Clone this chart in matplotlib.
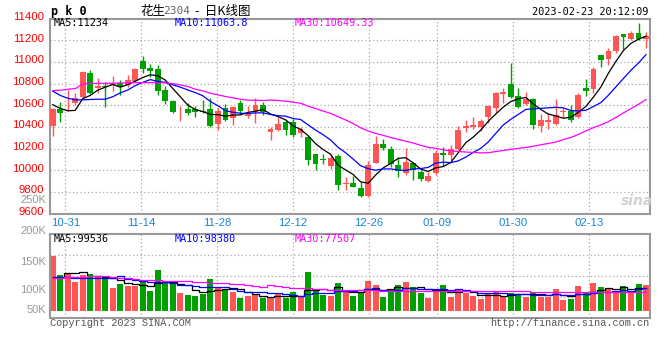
import matplotlib
matplotlib.use("Agg")
import matplotlib.pyplot as plt
import matplotlib.transforms as mtransforms
import numpy as np

# daily candles, 2022-10-27 .. 2023-02-23
opens = [10409, 10560, 10625, 10624, 10680, 10898, 10757, 10772, 10786, 10802,
         10787, 10827, 11008, 10944, 10935, 10741, 10640, 10551, 10560, 10566,
         10550, 10566, 10428, 10575, 10486, 10624, 10498, 10535, 10603, 10348,
         10372, 10440, 10449, 10342, 10302, 10151, 10106, 10041, 10133, 9875,
         9881, 9838, 9758, 10062, 10243, 10197, 10050, 9970, 10065, 9982,
         9896, 9970, 10163, 10142, 10194, 10385, 10403, 10403, 10495, 10572,
         10704, 10796, 10686, 10612, 10655, 10409, 10443, 10428, 10541, 10548,
         10495, 10760, 10750, 11061, 11024, 11104, 11257, 11211, 11263, 11211]
highs = [10570, 10630, 10741, 10710, 10916, 10925, 10852, 10818, 10870, 10833,
         10879, 10940, 11054, 10981, 10971, 10778, 10649, 10594, 10618, 10594,
         10649, 10664, 10572, 10609, 10590, 10649, 10594, 10664, 10630, 10403,
         10489, 10465, 10471, 10397, 10320, 10151, 10151, 10151, 10151, 9933,
         9948, 9887, 10084, 10311, 10289, 10225, 10120, 10203, 10071, 10004,
         9985, 10188, 10213, 10234, 10409, 10465, 10489, 10471, 10600, 10726,
         10757, 10993, 10757, 10726, 10664, 10520, 10532, 10658, 10572, 10597,
         10713, 10843, 10953, 11061, 11125, 11248, 11257, 11285, 11362, 11279]
lows = [10320, 10449, 10550, 10603, 10670, 10704, 10716, 10587, 10732, 10695,
        10772, 10818, 10895, 10864, 10695, 10612, 10529, 10458, 10510, 10489,
        10526, 10394, 10372, 10455, 10418, 10520, 10486, 10434, 10511, 10274,
        10357, 10326, 10305, 10305, 10050, 9998, 10059, 10013, 9819, 9819,
        9844, 9749, 9752, 10062, 10188, 10028, 9936, 9951, 9905, 9896,
        9887, 9958, 10034, 10096, 10182, 10354, 10379, 10366, 10434, 10541,
        10618, 10664, 10572, 10597, 10379, 10348, 10379, 10419, 10480, 10443,
        10486, 10686, 10716, 10956, 10972, 11079, 11119, 11202, 11202, 11131]
closes = [10566, 10532, 10632, 10664, 10907, 10716, 10775, 10768, 10792, 10781,
          10833, 10935, 10938, 10916, 10735, 10634, 10541, 10557, 10532, 10535,
          10538, 10409, 10547, 10465, 10584, 10547, 10523, 10603, 10541, 10379,
          10428, 10372, 10326, 10379, 10090, 10059, 10097, 10111, 9866, 9880,
          9847, 9758, 10047, 10243, 10207, 10059, 9988, 10078, 10004, 9921,
          9948, 10157, 10136, 10194, 10372, 10409, 10418, 10458, 10594, 10716,
          10726, 10673, 10587, 10655, 10418, 10465, 10461, 10505, 10547, 10465,
          10695, 10732, 10935, 11018, 11100, 11239, 11233, 11263, 11211, 11239]
volumes = [240, 157, 164, 128, 157, 161, 147, 147, 100, 117,
           108, 108, 126, 88, 179, 123, 120, 79, 69, 66,
           73, 138, 106, 94, 84, 57, 64, 72, 57, 54,
           73, 57, 84, 59, 172, 94, 69, 64, 123, 84,
           64, 84, 132, 113, 62, 91, 113, 128, 106, 79,
           57, 95, 113, 62, 91, 76, 64, 51, 73, 86,
           59, 79, 73, 62, 84, 62, 62, 95, 47, 51,
           108, 76, 123, 106, 95, 88, 108, 84, 117, 113]  # thousands

# average values shown before enough candles exist
ma5_head = [10605, 10570, 10548, 10552]
ma10_head = [10730, 10690, 10664, 10649, 10649, 10652, 10655, 10655, 10678]
ma30_head = [10735, 10738, 10747, 10753, 10795, 10800, 10802, 10802, 10802, 10805,
             10805, 10808, 10808, 10808, 10808, 10805, 10799, 10787, 10772, 10747,
             10732, 10710, 10695, 10680, 10667, 10655, 10646, 10646, 10643]
vol_ma5_head = [147, 147, 167, 167]
vol_ma10_head = [147, 147, 147, 146, 144, 144, 143, 143, 143]
vol_ma30_head = [142, 146, 148, 149, 150, 151, 152, 152, 150, 146,
                 142, 138, 135, 134, 133, 132, 132, 131, 129, 127,
                 125, 124, 122, 120, 119, 116, 113, 108, 104]

date_labels = ["10-31", "11-14", "11-28", "12-12", "12-26", "01-09", "01-30", "02-13"]
date_idx = [2, 12, 22, 32, 42, 51, 61, 71]
price_ticks = [9600, 9800, 10000, 10200, 10400, 10600, 10800, 11000, 11200, 11400]
vol_labels = ["250K", "200K", "150K", "100K", "50K"]

RED = "#ff5555"
GREEN = "#00a000"
GRID = "#aaaaaa"
FRAME = "#999999"
W, H = 660, 360


def fx(x):
    return x / W


def fy(y):
    return 1 - y / H


def moving_avg(values, n, head):
    vals = np.asarray(values, dtype=float)
    tail = np.convolve(vals, np.ones(n) / n, mode="valid")
    return np.concatenate([head, tail])


idx = np.arange(len(closes))
o = np.array(opens)
c = np.array(closes)
up = c >= o
colors = np.where(up, RED, GREEN)

fig = plt.figure(figsize=(W / 100, H / 100), dpi=100)
ax = fig.add_axes([fx(50), fy(213.5), 600 / W, 195 / H])
axv = fig.add_axes([fx(50), fy(317.7), 600 / W, 83.4 / H])

xlim = (-0.36, 79.53)
# sina spaces its date grid a touch wider than the candles
grid_x = [i * 1.0112 - 0.346 for i in date_idx]

# ---- price panel
ax.vlines(idx, lows, highs, colors=colors, linewidth=1, zorder=2)
body_lo = np.minimum(o, c)
body_h = np.maximum(np.abs(c - o), 8)
ax.bar(idx, body_h, bottom=body_lo, width=0.78, color=colors, linewidth=0, zorder=3)

ax.plot(idx, moving_avg(closes, 5, ma5_head), color="black", lw=0.9, zorder=4)
ax.plot(idx, moving_avg(closes, 10, ma10_head), color="blue", lw=0.9, zorder=4)
ax.plot(idx, moving_avg(closes, 30, ma30_head), color="#ff00ff", lw=0.9, zorder=4)

ax.set_xlim(*xlim)
ax.set_ylim(9600, 11400)
ax.set_yticks(price_ticks)
ax.set_yticklabels([str(p) for p in price_ticks], color="red",
                   family="Liberation Sans", fontsize=8.2)
ax.set_xticks(grid_x)
ax.set_xticklabels(date_labels, color="#1a86d0", family="Liberation Sans", fontsize=8.2)
ax.tick_params(length=0, pad=3)
ax.tick_params(axis="y", pad=4)
shift = mtransforms.ScaledTranslation(0, 2.5 / 100, fig.dpi_scale_trans)
for lab in ax.get_yticklabels():
    lab.set_transform(lab.get_transform() + shift)
for p in price_ticks[1:-1]:
    ax.axhline(p, color=GRID, lw=0.9, ls=(0, (1, 2)), zorder=1)
for g in grid_x:
    ax.axvline(g, color=GRID, lw=0.9, ls=(0, (1, 2)), zorder=1)

# ---- volume panel
axv.bar(idx, volumes, width=0.8, color=colors, linewidth=0, zorder=2)
axv.plot(idx, moving_avg(volumes, 5, vol_ma5_head), color="black", lw=0.9,
         drawstyle="steps-mid", zorder=4)
axv.plot(idx, moving_avg(volumes, 10, vol_ma10_head), color="blue", lw=0.9,
         drawstyle="steps-mid", zorder=4)
axv.plot(idx, moving_avg(volumes, 30, vol_ma30_head), color="#ff00ff", lw=0.9,
         drawstyle="steps-mid", zorder=4)
axv.set_xlim(*xlim)
vlo, vhi = -30.8, 336
axv.set_ylim(vlo, vhi)
axv.set_xticks([])
axv.set_yticks([])
for k in range(1, 4):
    axv.axhline(vlo + k * (vhi - vlo) / 4, color=GRID, lw=0.9, ls=(0, (1, 2)), zorder=1)
for g in grid_x:
    axv.axvline(g, color=GRID, lw=0.9, ls=(0, (1, 2)), zorder=1)

for a in (ax, axv):
    for s in a.spines.values():
        s.set_color(FRAME)
        s.set_linewidth(1.5)

# ---- texts
mono = "DejaVu Sans Mono"
cjk = ["Noto Sans CJK SC", "DejaVu Sans"]
fig.text(fx(51), fy(11), "p k 0", family=mono, weight="bold", fontsize=8.5, va="center")
fig.text(fx(140), fy(11), "花生", family=cjk, fontsize=9, va="center")
fig.text(fx(163), fy(11.5), "2304", family="DejaVu Sans Mono", fontsize=8, va="center",
         color="#666666")
fig.text(fx(195), fy(11), "-  日K线图", family=cjk, fontsize=9, va="center")
fig.text(fx(648), fy(12), "2023-02-23 20:12:09", family=mono, fontsize=7.4,
         ha="right", va="center")

fig.text(fx(54), fy(23.5), "MA5:11234", family=mono, fontsize=7.3, va="center", color="black")
fig.text(fx(175), fy(23.5), "MA10:11063.8", family=mono, fontsize=7.3, va="center", color="blue")
fig.text(fx(295), fy(23.5), "MA30:10649.33", family=mono, fontsize=7.3, va="center", color="#ff00ff")

fig.text(fx(54), fy(238.5), "MA5:99536", family=mono, fontsize=7.3, va="center", color="black")
fig.text(fx(175), fy(238.5), "MA10:98380", family=mono, fontsize=7.3, va="center", color="blue")
fig.text(fx(295), fy(238.5), "MA30:77507", family=mono, fontsize=7.3, va="center", color="#ff00ff")

for lab, y in zip(vol_labels, [200, 231, 262, 290, 310]):
    fig.text(fx(46), fy(y), lab, family="Liberation Sans", fontsize=8, color="#999999",
             ha="right", va="center")

fig.text(fx(50), fy(323.5), "Copyright 2023 SINA.COM", family="Liberation Mono",
         fontsize=7.4, color="#555555", va="center")
fig.text(fx(649), fy(323.5), "http://finance.sina.com.cn", family="Liberation Mono",
         fontsize=7.4, color="#555555", ha="right", va="center")

fig.text(fx(637), fy(201), "sina", family="DejaVu Sans", fontsize=10, style="italic",
         weight="bold", color="#cccccc", ha="center", va="center", alpha=0.9)

fig.savefig("out.png", dpi=100)
